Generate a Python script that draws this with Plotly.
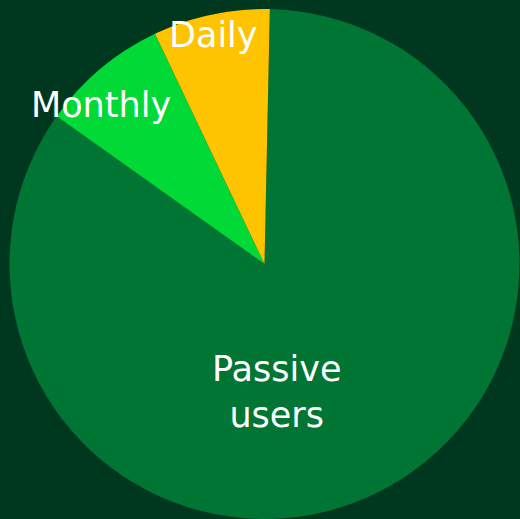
import plotly.graph_objects as go

labels = ["Passive users", "Monthly", "Daily"]
values = [84.5, 8.1, 7.4]
colors = ["#007534", "#00d936", "#ffc300"]
label_text = ["Passive<br>users", "Monthly", "Daily"]

W, H = 520, 519

fig = go.Figure(go.Pie(
    labels=labels,
    values=values,
    sort=False,
    direction="clockwise",
    rotation=1.2,
    marker=dict(colors=colors, line=dict(width=0)),
    textinfo="none",
    hoverinfo="label+percent",
    domain=dict(x=[9 / W, 1], y=[0, 1 - 9 / H]),
    showlegend=False,
))

# label positions (pixels in the figure), converted to paper fractions
label_px = [(276, 392), (101, 105), (213, 35)]
for txt, (px, py) in zip(label_text, label_px):
    fig.add_annotation(
        x=px / W, y=1 - py / H, xref="paper", yref="paper",
        text=txt, showarrow=False, xanchor="center", yanchor="middle",
        font=dict(family="DejaVu Sans", size=35, color="white"),
    )

fig.update_layout(
    width=W, height=H,
    margin=dict(l=0, r=0, t=0, b=0),
    paper_bgcolor="#00381f",
    plot_bgcolor="#00381f",
)

fig.write_html("out.html", config={"displayModeBar": False},
               post_script="document.body.style.margin='0';")
